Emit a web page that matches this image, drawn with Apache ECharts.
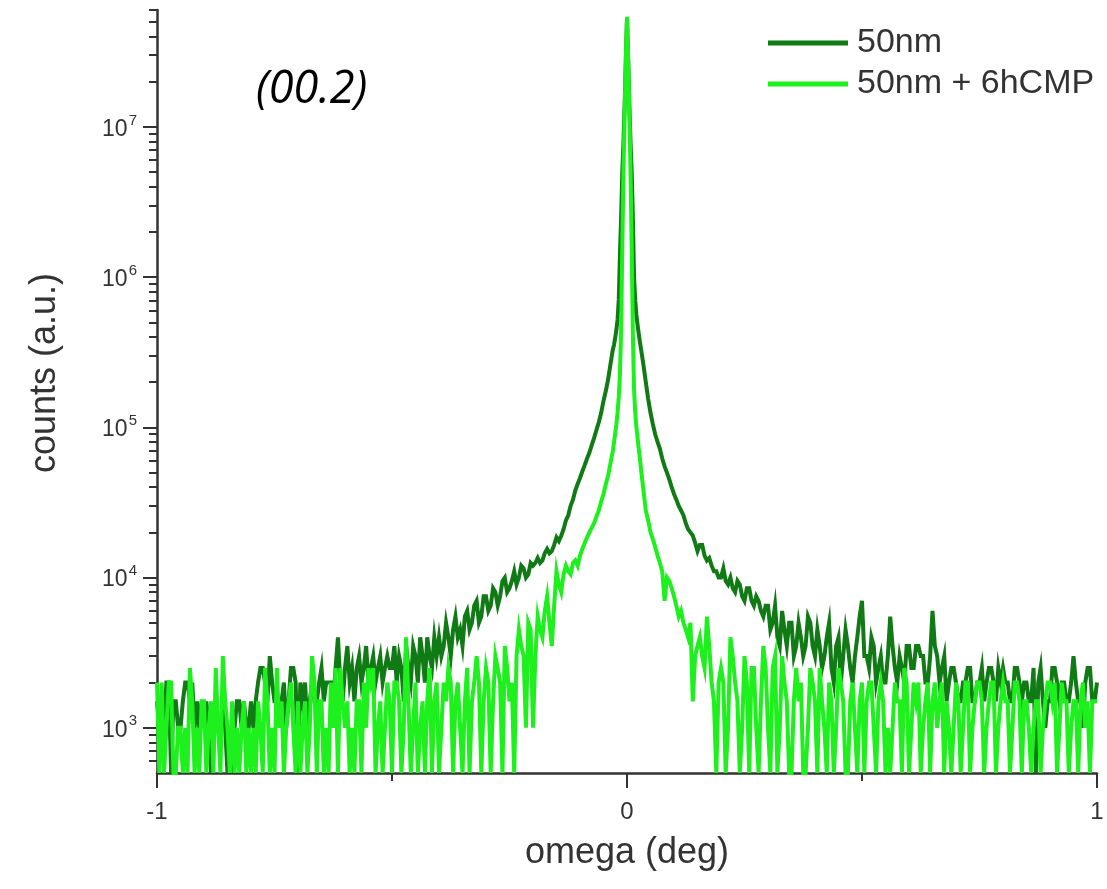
<!DOCTYPE html>
<html>
<head>
<meta charset="utf-8">
<script src="https://cdn.jsdelivr.net/npm/echarts@6/dist/echarts.min.js"></script>
<style>
  html, body { margin: 0; padding: 0; background: #fff; }
  #chart { width: 1107px; height: 889px; }
</style>
</head>
<body>
<div id="chart"></div>
<script>
// Omega scan: 0.005 deg steps in the tails, 0.0025 deg steps across the peak core.
const tailStep = 0.005;
const coreStep = 0.0025;
const leftStart = -1.0;    // left tail: -1.000 ... -0.035
const coreStart = -0.03;   // core: -0.030 ... 0.030
const rightStart = 0.035;  // right tail: 0.035 ... 1.000

const seriesNames = ['50nm', '50nm + 6hCMP'];

// 50nm (counts), one row per 0.1 deg
const darkLeft = [
  1500, 1000, 1500, 1000, 2000, 2000, 500, 1500, 1500, 1000, 1000, 1500, 2000, 2000, 1500, 2000, 1000, 1500, 1000, 1500,
  1000, 1500, 1000, 500, 1000, 1500, 1000, 1000, 1500, 1000, 500, 1000, 500, 1000, 1500, 1500, 1000, 1500, 1000, 1000,
  1500, 1000, 1500, 2000, 2500, 2500, 2000, 1500, 3000, 2000, 1500, 1500, 1000, 1500, 2000, 1000, 1500, 2500, 2500, 2000,
  500, 2000, 1500, 2000, 1000, 1500, 2000, 1500, 1500, 2000, 2500, 1500, 2000, 2000, 2000, 1500, 2500, 4000, 2000, 1500,
  2500, 3500, 2000, 2500, 1500, 2500, 3000, 2000, 2500, 3500, 2000, 2500, 3000, 2000, 2500, 3000, 2000, 2500, 3000, 2500,
  2500, 3500, 2000, 3000, 2500, 1500, 3500, 2500, 2000, 3500, 3000, 2000, 4000, 3000, 2000, 4000, 3000, 2500, 4000, 3000,
  4000, 3000, 3500, 5000, 4000, 3000, 4500, 5500, 4000, 4500, 3500, 5500, 6000, 4500, 5000, 6500, 7000, 5000, 5500, 7500,
  7500, 6000, 6500, 8500, 8000, 6500, 7500, 9500, 10000, 8000, 8500, 9500, 11000, 9000, 10000, 12000, 11500, 10000, 10500, 12500,
  12000, 12500, 13500, 12500, 13000, 14500, 15500, 14500, 15000, 16500, 18500, 17500, 19000, 21000, 24000, 26000, 30000, 33000, 38000, 42000,
  46000, 51000, 56000, 62000, 68000, 76000, 85000, 96000, 108000, 125000, 150000, 175000, 210000, 265000
];
const darkCore = [
  331000, 355000, 398000, 447000, 525000, 708000, 1410000, 2510000, 5010000, 7940000,
  14100000, 28200000, 52500000, 28200000, 14100000, 7940000, 5010000, 2510000, 1000000, 700000,
  560000, 480000, 420000, 370000, 330000
];
const darkRight = [
  260000, 200000, 155000, 125000, 105000, 90000, 80000, 72000, 62000, 55000, 50000, 45000, 40000,
  36000, 33000, 30000, 28000, 26000, 23000, 21000, 20000, 19000, 17000, 15000, 16500, 16500, 14000, 13000, 13500, 12000, 11000, 11000, 10000,
  10000, 11500, 9500, 9000, 10000, 8500, 8000, 9500, 9000, 7500, 7000, 8500, 8500, 7000, 6500, 7500, 7000, 6000, 5500, 6500,
  6500, 4500, 5000, 6500, 4000, 3500, 6000, 4500, 3500, 5000, 5000, 3000, 3500, 5000, 4000, 3000, 3500, 5500, 5000, 3500,
  3000, 4500, 3500, 2500, 3000, 4000, 5000, 2500, 2000, 3500, 4000, 2000, 3000, 4500, 3500, 2500, 2000, 3000, 4000, 5500,
  7000, 3000, 3000, 2500, 4000, 3500, 2000, 2500, 3000, 2000, 2000, 3000, 5500, 3500, 2500, 2000, 3000, 2500, 2000, 3500,
  3500, 2500, 2500, 3500, 3500, 3000, 3000, 2000, 2000, 3000, 6000, 3500, 3000, 2000, 2500, 3000, 1500, 2000, 2500, 2500,
  2000, 1500, 1500, 2000, 2000, 2500, 2500, 1500, 1500, 2000, 2000, 2500, 1500, 2000, 2500, 2500, 2000, 1500, 2500, 2000,
  2500, 2000, 2000, 1500, 1500, 2500, 2500, 2000, 1500, 2000, 2000, 1500, 1500, 2500, 500, 2000, 2500, 1500, 1000, 1500,
  1500, 2500, 2500, 2000, 1500, 2000, 2000, 1500, 1500, 2000, 3000, 2000, 1500, 1500, 1000, 2000, 2500, 2500, 1500, 1500, 2000
];

// 50nm + 6hCMP (counts), one row per 0.1 deg
const lightLeft = [
  2000, 500, 2000, 500, 1000, 2000, 2000, 500, 500, 1000, 1000, 500, 1000, 500, 2500, 1500, 500, 1000, 500, 1500,
  1500, 500, 1000, 1500, 500, 2500, 1000, 500, 3000, 1500, 1000, 500, 1500, 500, 1000, 500, 1000, 1500, 500, 1000,
  500, 1000, 500, 1500, 1000, 500, 2500, 1500, 500, 1000, 500, 2500, 1000, 1500, 500, 1000, 1500, 2000, 1000, 500,
  1500, 500, 1000, 1500, 500, 1000, 3000, 2000, 500, 1500, 1500, 500, 1000, 500, 2000, 1000, 2500, 500, 2500, 1500,
  1000, 1500, 500, 1000, 500, 1500, 1500, 500, 2000, 1000, 2500, 2000, 2500, 500, 1000, 1500, 500, 1000, 2000, 1500,
  500, 2000, 2000, 1500, 500, 1000, 4000, 1500, 500, 1000, 2000, 500, 1000, 1500, 500, 1500, 2500, 500, 1500, 2000,
  500, 1000, 2000, 1500, 2500, 2000, 500, 1500, 2000, 1000, 500, 1500, 2500, 500, 1500, 2000, 3000, 2000, 500, 1500,
  2500, 2000, 500, 1500, 3000, 2500, 2000, 500, 3500, 2500, 1500, 2000, 500, 3000, 4500, 3500, 3000, 1000, 5000, 4500,
  1000, 3000, 5500, 4500, 4000, 6000, 7500, 5000, 3500, 6500, 11000, 9000, 8000, 10500, 12000, 11000, 10500, 12500, 13000, 12000,
  14000, 15500, 17000, 18500, 20000, 21500, 23000, 25500, 28000, 32000, 36000, 42000, 48000, 58000
];
const lightCore = [
  70000, 80000, 92000, 105000, 126000, 160000, 225000, 450000, 1580000, 5000000,
  12600000, 28000000, 54000000, 28000000, 12600000, 5000000, 1580000, 420000, 180000, 125000,
  100000, 85000, 72000, 62000, 52000
];
const lightRight = [
  38000, 28000, 24000, 20000, 18000, 16000, 14000, 12500, 11000, 7000, 10000, 9500, 8500,
  7500, 6500, 5500, 6000, 5000, 4500, 4000, 5000, 1500, 3000, 3500, 4000, 3000, 2500, 5500, 3500, 2000, 1500, 500, 2000,
  2500, 2000, 500, 1000, 4000, 3000, 2000, 1500, 500, 1000, 3000, 2000, 500, 2500, 2500, 1000, 500, 1500, 3500, 2500,
  1000, 500, 2500, 3000, 500, 1000, 3000, 2000, 1500, 500, 500, 1500, 2500, 1500, 2000, 500, 500, 1000, 2500, 2000,
  1500, 500, 2500, 1500, 1000, 500, 2000, 1500, 500, 1000, 2500, 2000, 1500, 500, 500, 1500, 2000, 1000, 500, 1500,
  2000, 500, 1500, 2000, 2000, 1000, 500, 1500, 2000, 1500, 500, 1000, 500, 1000, 2000, 1500, 1500, 500, 2500, 2000,
  500, 1000, 2000, 1500, 2000, 500, 1000, 1500, 2000, 500, 1500, 2000, 1000, 1500, 2000, 500, 1500, 1000, 500, 1000,
  2000, 1500, 500, 1000, 2000, 2000, 500, 1000, 1500, 2000, 2000, 1500, 500, 1000, 1500, 2000, 2000, 500, 1000, 1500,
  2000, 1500, 1500, 500, 1000, 2000, 2000, 1500, 500, 1500, 1500, 1000, 500, 1000, 1500, 1500, 500, 1000, 1500, 2000,
  2000, 1500, 2000, 500, 1000, 2000, 1500, 1500, 500, 1000, 1500, 1500, 500, 1500, 2000, 1000, 1500, 500, 1500, 1500, 1500
];

// Axis tick values
const xLabelTicks = [-1, 0, 1];
const xMinorTicks = [-0.5, 0.5];
const yDecades = [1e3, 1e4, 1e5, 1e6, 1e7];
const yMin = 500;
const yMax = 6e7;

function scanPoints(left, core, right) {
  const pts = [];
  left.forEach((v, i) => pts.push([+(leftStart + tailStep * i).toFixed(4), v]));
  core.forEach((v, k) => pts.push([+(coreStart + coreStep * k).toFixed(4), v]));
  right.forEach((v, j) => pts.push([+(rightStart + tailStep * j).toFixed(4), v]));
  return pts;
}

// minor log ticks at 2..9 x 10^n inside the axis range
const yMinor = [];
for (let e = 2; e <= 7; e++) {
  for (let m = 2; m <= 9; m++) {
    const v = m * Math.pow(10, e);
    if (v > yMin && v <= yMax) yMinor.push(v);
  }
}

const FONT = '"Liberation Sans", Arial, sans-serif';
const AXIS_COLOR = '#333';
const DARK = '#107a14';
const LIGHT = '#1df01d';
const LINE_W = 4;

const chart = echarts.init(document.getElementById('chart'), null, { renderer: 'canvas' });

chart.setOption({
  animation: false,
  backgroundColor: '#fff',
  grid: { left: 157, right: 10, top: 10, bottom: 116, containLabel: false },
  legend: {
    orient: 'vertical',
    left: 763,
    top: 21,
    icon: 'rect',
    itemWidth: 80,
    itemHeight: 5,
    itemGap: 7,
    textStyle: { fontFamily: FONT, fontSize: 34, color: AXIS_COLOR, padding: [0, 0, 0, 4] },
    data: seriesNames
  },
  graphic: [{
    type: 'text',
    left: 256,
    top: 68,
    style: { text: '(00.2)', font: 'italic 45px "Open Sans", "Noto Sans", sans-serif', fill: '#000' }
  }, {
    type: 'text',
    x: 45,
    y: 373,
    rotation: Math.PI / 2,
    style: {
      text: 'counts (a.u.)',
      font: '36px "Liberation Sans", Arial, sans-serif',
      fill: AXIS_COLOR,
      align: 'center',
      verticalAlign: 'middle'
    }
  }],
  xAxis: [{
    type: 'value',
    min: -1,
    max: 1,
    interval: 1,
    axisLine: { show: true, onZero: false, lineStyle: { color: AXIS_COLOR, width: 2.5 } },
    axisTick: { show: true, length: 15, lineStyle: { color: AXIS_COLOR, width: 2 }, customValues: xLabelTicks },
    axisLabel: { customValues: xLabelTicks, fontFamily: FONT, fontSize: 24, color: AXIS_COLOR, margin: 27 },
    splitLine: { show: false },
    name: 'omega (deg)',
    nameLocation: 'middle',
    nameGap: 62,
    nameTextStyle: { fontFamily: FONT, fontSize: 36, color: AXIS_COLOR }
  }, {
    type: 'value',
    min: -1,
    max: 1,
    position: 'bottom',
    axisLine: { show: false, onZero: false },
    axisTick: { show: true, length: 8, lineStyle: { color: AXIS_COLOR, width: 2 }, customValues: xMinorTicks },
    axisLabel: { show: false },
    splitLine: { show: false }
  }],
  yAxis: [{
    type: 'log',
    logBase: 10,
    min: yMin,
    max: yMax,
    position: 'left',
    axisLine: { show: true, onZero: false, lineStyle: { color: AXIS_COLOR, width: 2.5 } },
    axisTick: { show: true, length: 14, lineStyle: { color: AXIS_COLOR, width: 2 }, customValues: yDecades },
    axisLabel: {
      customValues: yDecades,
      margin: 20,
      formatter: v => '{b|10}{s|' + Math.round(Math.log10(v)) + '}',
      rich: {
        b: { fontFamily: FONT, fontSize: 23, color: AXIS_COLOR, verticalAlign: 'bottom' },
        s: { fontFamily: FONT, fontSize: 15, color: AXIS_COLOR, verticalAlign: 'bottom', padding: [0, 0, 13, 1] }
      }
    },
    splitLine: { show: false }
  }, {
    type: 'log',
    logBase: 10,
    min: yMin,
    max: yMax,
    position: 'left',
    axisLine: { show: false, onZero: false },
    axisTick: { show: true, length: 8, lineStyle: { color: AXIS_COLOR, width: 2 }, customValues: yMinor },
    axisLabel: { show: false },
    splitLine: { show: false }
  }],
  series: [{
    name: seriesNames[0],
    type: 'line',
    xAxisIndex: 0,
    yAxisIndex: 0,
    data: scanPoints(darkLeft, darkCore, darkRight),
    symbol: 'none',
    showSymbol: false,
    color: DARK,
    lineStyle: { color: DARK, width: LINE_W, join: 'miter' },
    z: 2
  }, {
    name: seriesNames[1],
    type: 'line',
    xAxisIndex: 0,
    yAxisIndex: 0,
    data: scanPoints(lightLeft, lightCore, lightRight),
    symbol: 'none',
    showSymbol: false,
    color: LIGHT,
    lineStyle: { color: LIGHT, width: LINE_W, join: 'miter' },
    z: 3
  }]
});
</script>
</body>
</html>
